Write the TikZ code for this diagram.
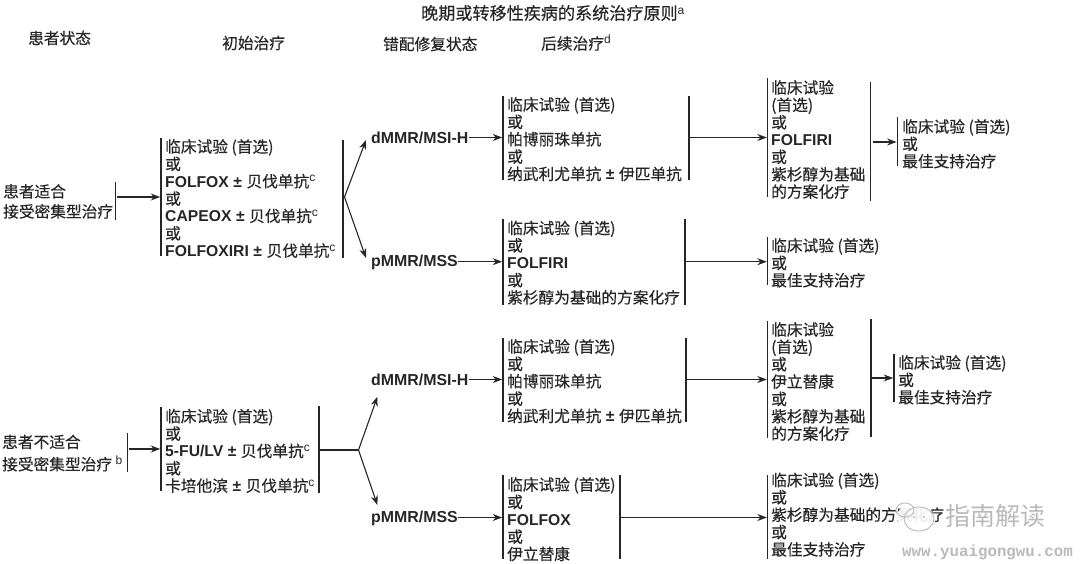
\documentclass[tikz,border=0pt]{standalone}
\usepackage{fontspec}
\usetikzlibrary{arrows.meta}
\setmainfont{Noto Sans CJK SC}[RawFeature={embolden=0.35}]
\newfontfamily\plainsans{Noto Sans CJK SC}
\newfontfamily\lat{Liberation Sans}
\newfontfamily\mon{Liberation Mono}
\newcommand{\Bd}[1]{{\lat\bfseries #1}}
\newcommand{\Pm}{\kern1pt{\lat\bfseries ±}\kern1pt}
\newcommand{\Up}[1]{\raisebox{5.5pt}{\fontsize{12}{12}\selectfont\lat #1}}
\newcommand{\Ts}{临床试验 (首选)}
\definecolor{ink}{HTML}{262626}
\definecolor{wmgray}{HTML}{B9B9B9}
\tikzset{
  x=1pt,y=-1pt,
  txt/.style={anchor=north west,inner sep=0pt,align=left,text=ink,font=\fontsize{15.7}{17.35}\selectfont},
  head/.style={anchor=west,inner sep=0pt,text=ink,font=\fontsize{15.7}{17.35}\selectfont},
  mmr/.style={anchor=west,inner sep=0pt,text=ink,font=\fontsize{15.9}{17.35}\selectfont\lat\bfseries},
  barn/.style={fill=ink,draw=none,inner sep=0pt,minimum width=1.2pt},
  arr/.style={draw=ink,line width=1.1pt,-{Stealth[length=9.5pt,width=7pt]}},
  lin/.style={draw=ink,line width=1.1pt},
}
% name, x, y centre of first line, text
\newcommand{\tb}[4]{\node[txt] (#1) at (#2,#3-7) {\rule{0pt}{13pt}#4};}
% name, x, y1, y2
\newcommand{\br}[4]{\node[barn,minimum height=#4pt-#3pt] (#1) at (#2,{(#3+#4)/2}) {};}
\begin{document}
\begin{tikzpicture}
\useasboundingbox (0,0) rectangle (1080,564);
% headers
\node[head,font=\fontsize{17.1}{18}\selectfont] (title) at (421,13) {晚期或转移性疾病的系统治疗原则\Up{a}};
\node[head] (h1) at (28,38) {患者状态};
\node[head] (h2) at (222,43) {初始治疗};
\node[head] (h3) at (383,44) {错配修复状态};
\node[head] (h4) at (541,43) {后续治疗\Up{d}};
% upper half
\tb{p1}{3}{191}{患者适合\\[2.65pt]接受密集型治疗}
\br{bp1}{115.7}{182}{220}
\br{bi1l}{161}{138}{256}
\tb{i1}{165}{146}{\Ts\\或\\\Bd{FOLFOX} \Pm{} 贝伐单抗\Up{c}\\或\\\Bd{CAPEOX} \Pm{} 贝伐单抗\Up{c}\\或\\\Bd{FOLFOXIRI} \Pm{} 贝伐单抗\Up{c}}
\br{bi1r}{343}{140}{258}
\node[mmr] (d1) at (371,138) {dMMR/MSI-H};
\node[mmr] (m1) at (371,262) {pMMR/MSS};
\br{ba1l}{503}{96}{180}
\tb{a1}{507}{104}{\Ts\\或\\帕博丽珠单抗\\或\\纳武利尤单抗 \Pm{} 伊匹单抗}
\br{ba1r}{689}{96}{180}
\br{bb1l}{767.6}{78}{197}
\tb{b1}{771}{87}{临床试验\\(首选)\\或\\\Bd{FOLFIRI}\\或\\紫杉醇为基础\\的方案化疗}
\br{bb1r}{870.6}{82}{201}
\br{bc1}{897.4}{117}{166}
\tb{c1}{902}{126}{\Ts\\或\\最佳支持治疗}
\br{ba2l}{503}{219}{305}
\tb{a2}{507}{227.5}{\Ts\\或\\\Bd{FOLFIRI}\\或\\紫杉醇为基础的方案化疗}
\br{ba2r}{685}{219}{305}
\br{bb2}{767.6}{237}{285}
\tb{b2}{771}{245}{\Ts\\或\\最佳支持治疗}
% lower half
\tb{p2}{2}{441.5}{患者不适合\\[4.9pt]接受密集型治疗 \Up{b}}
\br{bp2}{127.7}{432.7}{472}
\br{bi2l}{161}{407}{490.7}
\tb{i2}{165}{415.7}{\Ts\\或\\\Bd{5-FU/LV} \Pm{} 贝伐单抗\Up{c}\\或\\卡培他滨 \Pm{} 贝伐单抗\Up{c}}
\br{bi2r}{319}{405.7}{493}
\node[mmr] (d2) at (371,380) {dMMR/MSI-H};
\node[mmr] (m2) at (371,518) {pMMR/MSS};
\br{ba3l}{503}{337.7}{421.7}
\tb{a3}{507}{346}{\Ts\\或\\帕博丽珠单抗\\或\\纳武利尤单抗 \Pm{} 伊匹单抗}
\br{ba3r}{686}{338}{422}
\br{bb3l}{767.6}{320.7}{438}
\tb{b3}{771}{329}{临床试验\\(首选)\\或\\伊立替康\\或\\紫杉醇为基础\\的方案化疗}
\br{bb3r}{871}{318.7}{437}
\br{bc3}{894}{353.7}{402}
\tb{c3}{898}{362}{\Ts\\或\\最佳支持治疗}
\br{ba4l}{503}{475}{559}
\tb{a4}{507}{484}{\Ts\\或\\\Bd{FOLFOX}\\或\\伊立替康}
\br{ba4r}{620}{475}{559}
\br{bb4}{767.6}{475}{558.7}
\tb{b4}{771}{479.5}{\Ts\\或\\紫杉醇为基础的方案化疗\\或\\最佳支持治疗}
% levels and fork points
\coordinate (l1) at (0,197);
\coordinate (l2) at (0,137.5);
\coordinate (l3) at (0,142);
\coordinate (l4) at (0,261.7);
\coordinate (l5) at (0,449);
\coordinate (l6) at (0,379.5);
\coordinate (l7) at (0,378);
\coordinate (l8) at (0,517.5);
\coordinate (fa) at (344.5,197);
\coordinate (fu) at (366,140);
\coordinate (fd) at (366,258);
\coordinate (ga) at (358.5,450);
\coordinate (gu) at (377.4,396.7);
\coordinate (gd) at (377.4,505);
% connectors
\draw[arr] (bp1.east |- l1) -- (bi1l.west |- l1);
\draw[arr] (fa) -- (fu);
\draw[arr] (fa) -- (fd);
\draw[arr] (d1.east |- l2) -- (ba1l.west |- l2);
\draw[arr] (m1.east |- l4) -- (ba2l.west |- l4);
\draw[arr] (ba1r.east |- l2) -- (bb1l.west |- l2);
\draw[arr] ([xshift=2pt]bb1r.east |- l3) -- (bc1.west |- l3);
\draw[arr] (ba2r.east |- l4) -- (bb2.west |- l4);
\draw[arr] (bp2.east |- l5) -- (bi2l.west |- l5);
\draw[lin] (bi2r.east |- ga) -- (ga);
\draw[arr] (ga) -- (gu);
\draw[arr] (ga) -- (gd);
\draw[arr] (d2.east |- l6) -- (ba3l.west |- l6);
\draw[arr] (m2.east |- l8) -- (ba4l.west |- l8);
\draw[arr] (ba3r.east |- l6) -- (bb3l.west |- l6);
\draw[arr] (bb3r.east |- l7) -- (bc3.west |- l7);
\draw[arr] (ba4r.east |- l8) -- (bb4.west |- l8);
% watermark
\fill[white,opacity=.92] (915,517) ellipse (18 and 14);
\draw[draw=wmgray,line width=.9pt] (919,519) ellipse (15 and 12);
\draw[draw=wmgray,line width=.9pt] (905,510) ellipse (9 and 7);
\fill[wmgray] (914,517) circle (1.2) (924,517) circle (1.2);
\node[anchor=west,inner sep=0pt,text=wmgray,font=\fontsize{25}{26}\selectfont\plainsans] (wm) at (945,516) {指南解读};
\node[anchor=west,inner sep=0pt,text=wmgray,font=\fontsize{15.8}{16}\selectfont\mon\bfseries] (url) at (902,552) {www.yuaigongwu.com};
\end{tikzpicture}
\end{document}
